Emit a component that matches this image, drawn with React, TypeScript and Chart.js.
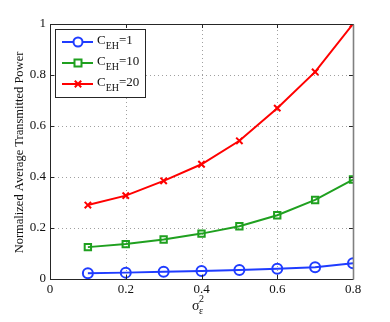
import React, { useEffect, useRef } from "react";
import { Chart, registerables } from "chart.js";
Chart.register(...registerables);

const xValues = [0.1, 0.2, 0.3, 0.4, 0.5, 0.6, 0.7, 0.8];
const ceh1 = [0.023, 0.025, 0.028, 0.031, 0.035, 0.04, 0.046, 0.062];
const ceh10 = [0.125, 0.137, 0.155, 0.178, 0.207, 0.25, 0.31, 0.39];
const ceh20 = [0.29, 0.327, 0.385, 0.45, 0.542, 0.67, 0.812, 1.0];
const seriesLabels = ["1", "10", "20"];
const seriesColors = ["#1f3cff", "#1fa01f", "#ff0000"];
const seriesMarkers = ["circle", "rect", "crossRot"];
const yTitle = "Normalized Average Transmitted Power";

const FONT = "'Liberation Serif', 'DejaVu Serif', serif";

const gridPlugin = {
  id: "dotgrid",
  beforeDatasetsDraw(chart: any) {
    const { ctx, chartArea: a, scales } = chart;
    ctx.save();
    ctx.strokeStyle = "#a0a0a0";
    ctx.lineWidth = 1;
    ctx.setLineDash([1, 3]);
    scales.x.ticks.forEach((t: any) => {
      const px = Math.round(scales.x.getPixelForValue(t.value)) + 0.5;
      ctx.beginPath();
      ctx.moveTo(px, a.bottom);
      ctx.lineTo(px, a.top);
      ctx.stroke();
    });
    scales.y.ticks.forEach((t: any) => {
      const py = Math.round(scales.y.getPixelForValue(t.value)) + 0.5;
      ctx.beginPath();
      ctx.moveTo(a.left, py);
      ctx.lineTo(a.right, py);
      ctx.stroke();
    });
    ctx.restore();
  },
};

const framePlugin = {
  id: "frame",
  afterDraw(chart: any) {
    const { ctx, chartArea: a, scales } = chart;
    ctx.save();
    ctx.strokeStyle = "#262626";
    ctx.lineWidth = 1;
    const tl = 4;
    scales.x.ticks.forEach((t: any) => {
      const px = Math.round(scales.x.getPixelForValue(t.value)) + 0.5;
      ctx.beginPath();
      ctx.moveTo(px, a.bottom);
      ctx.lineTo(px, a.bottom - tl);
      ctx.moveTo(px, a.top);
      ctx.lineTo(px, a.top + tl);
      ctx.stroke();
    });
    scales.y.ticks.forEach((t: any) => {
      const py = Math.round(scales.y.getPixelForValue(t.value)) + 0.5;
      ctx.beginPath();
      ctx.moveTo(a.left, py);
      ctx.lineTo(a.left + tl, py);
      ctx.moveTo(a.right, py);
      ctx.lineTo(a.right - tl, py);
      ctx.stroke();
    });
    const L = Math.round(a.left) + 0.5, T = Math.round(a.top) + 0.5;
    const R = Math.round(a.right) + 0.5, B = Math.round(a.bottom) + 0.5;
    ctx.beginPath();
    ctx.moveTo(R, T);
    ctx.lineTo(L, T);
    ctx.lineTo(L, B);
    ctx.lineTo(R, B);
    ctx.stroke();
    ctx.strokeStyle = "#808080";
    ctx.lineWidth = 1.6;
    ctx.beginPath();
    ctx.moveTo(R, T);
    ctx.lineTo(R, B);
    ctx.stroke();

    // Legend
    ctx.lineWidth = 1;
    const lx = 55, ly = 29, lw = 90, lh = 68;
    ctx.fillStyle = "#fff";
    ctx.fillRect(lx, ly, lw, lh);
    ctx.strokeStyle = "#262626";
    ctx.strokeRect(lx + 0.5, ly + 0.5, lw, lh);
    const rows = [42, 63, 84];
    seriesLabels.forEach((lab, i) => {
      const y = rows[i];
      ctx.strokeStyle = seriesColors[i];
      ctx.lineWidth = 2;
      ctx.beginPath();
      ctx.moveTo(62, y);
      ctx.lineTo(93, y);
      ctx.stroke();
      const style = seriesMarkers[i];
      ctx.beginPath();
      if (style === "circle") {
        ctx.arc(78, y, 4.5, 0, Math.PI * 2);
        ctx.fillStyle = "#fff";
        ctx.fill();
        ctx.stroke();
      } else if (style === "rect") {
        ctx.fillStyle = "#fff";
        ctx.fillRect(78 - 3.5, y - 3.5, 7, 7);
        ctx.strokeRect(78 - 3.5, y - 3.5, 7, 7);
      } else {
        const r = 3.2;
        ctx.moveTo(78 - r, y - r);
        ctx.lineTo(78 + r, y + r);
        ctx.moveTo(78 + r, y - r);
        ctx.lineTo(78 - r, y + r);
        ctx.stroke();
      }
      ctx.fillStyle = "#111";
      ctx.textBaseline = "alphabetic";
      ctx.textAlign = "left";
      ctx.font = `13px ${FONT}`;
      let x = 97;
      ctx.fillText("C", x, y + 2);
      x += ctx.measureText("C").width;
      ctx.font = `10px ${FONT}`;
      ctx.fillText("EH", x, y + 7);
      x += ctx.measureText("EH").width;
      ctx.font = `13px ${FONT}`;
      ctx.fillText("=" + lab, x, y + 2);
    });

    // X title
    ctx.fillStyle = "#111";
    ctx.font = `14px ${FONT}`;
    ctx.textAlign = "left";
    ctx.textBaseline = "alphabetic";
    ctx.fillText("σ", 192, 310);
    ctx.font = `10px ${FONT}`;
    ctx.fillText("2", 199, 302);
    ctx.fillText("ε", 199, 314);

    // Y title
    ctx.save();
    ctx.translate(20, (a.top + a.bottom) / 2 + 1);
    ctx.rotate(-Math.PI / 2);
    ctx.font = `12.5px ${FONT}`;
    ctx.textAlign = "center";
    ctx.textBaseline = "middle";
    ctx.fillText(yTitle, 0, 0);
    ctx.restore();
    ctx.restore();
  },
};

export default function App() {
  const ref = useRef<HTMLCanvasElement>(null);
  useEffect(() => {
    const mk = (data: number[], i: number) => ({
      label: "C_EH=" + seriesLabels[i],
      data: data.map((v, k) => ({ x: xValues[k], y: v })),
      borderColor: seriesColors[i],
      backgroundColor: "transparent",
      borderWidth: 2,
      pointStyle: seriesMarkers[i],
      pointRadius: i === 0 ? 5 : 4.5,
      pointBorderWidth: 2,
      pointBackgroundColor: "transparent",
      pointBorderColor: seriesColors[i],
      tension: 0,
    });
    const chart = new Chart(ref.current!, {
      type: "line",
      data: { datasets: [mk(ceh1, 0), mk(ceh10, 1), mk(ceh20, 2)] as any },
      options: {
        animation: false,
        responsive: false,
        layout: { padding: { left: 0, top: 24, right: 37, bottom: 0 } },
        plugins: { legend: { display: false }, tooltip: { enabled: false } },
        scales: {
          x: {
            type: "linear",
            min: 0,
            max: 0.8,
            afterFit: (s: any) => { s.height = 43; },
            ticks: { stepSize: 0.2, color: "#111", font: { family: FONT, size: 13 }, padding: 3, maxRotation: 0 },
            grid: { display: false, drawTicks: false },
            border: { display: false },
          },
          y: {
            min: 0,
            max: 1,
            afterFit: (s: any) => { s.width = 50; },
            ticks: { stepSize: 0.2, color: "#111", font: { family: FONT, size: 13 }, padding: 4, callback: (v: any) => String(Math.round(v * 10) / 10) },
            grid: { display: false, drawTicks: false },
            border: { display: false },
          },
        },
      } as any,
      plugins: [gridPlugin, framePlugin],
    });
    return () => chart.destroy();
  }, []);
  return (
    <div style={{ position: "fixed", left: 0, top: 0, width: 390, height: 322, background: "#fff" }}>
      <canvas ref={ref} width={390} height={322} style={{ display: "block" }} />
    </div>
  );
}
